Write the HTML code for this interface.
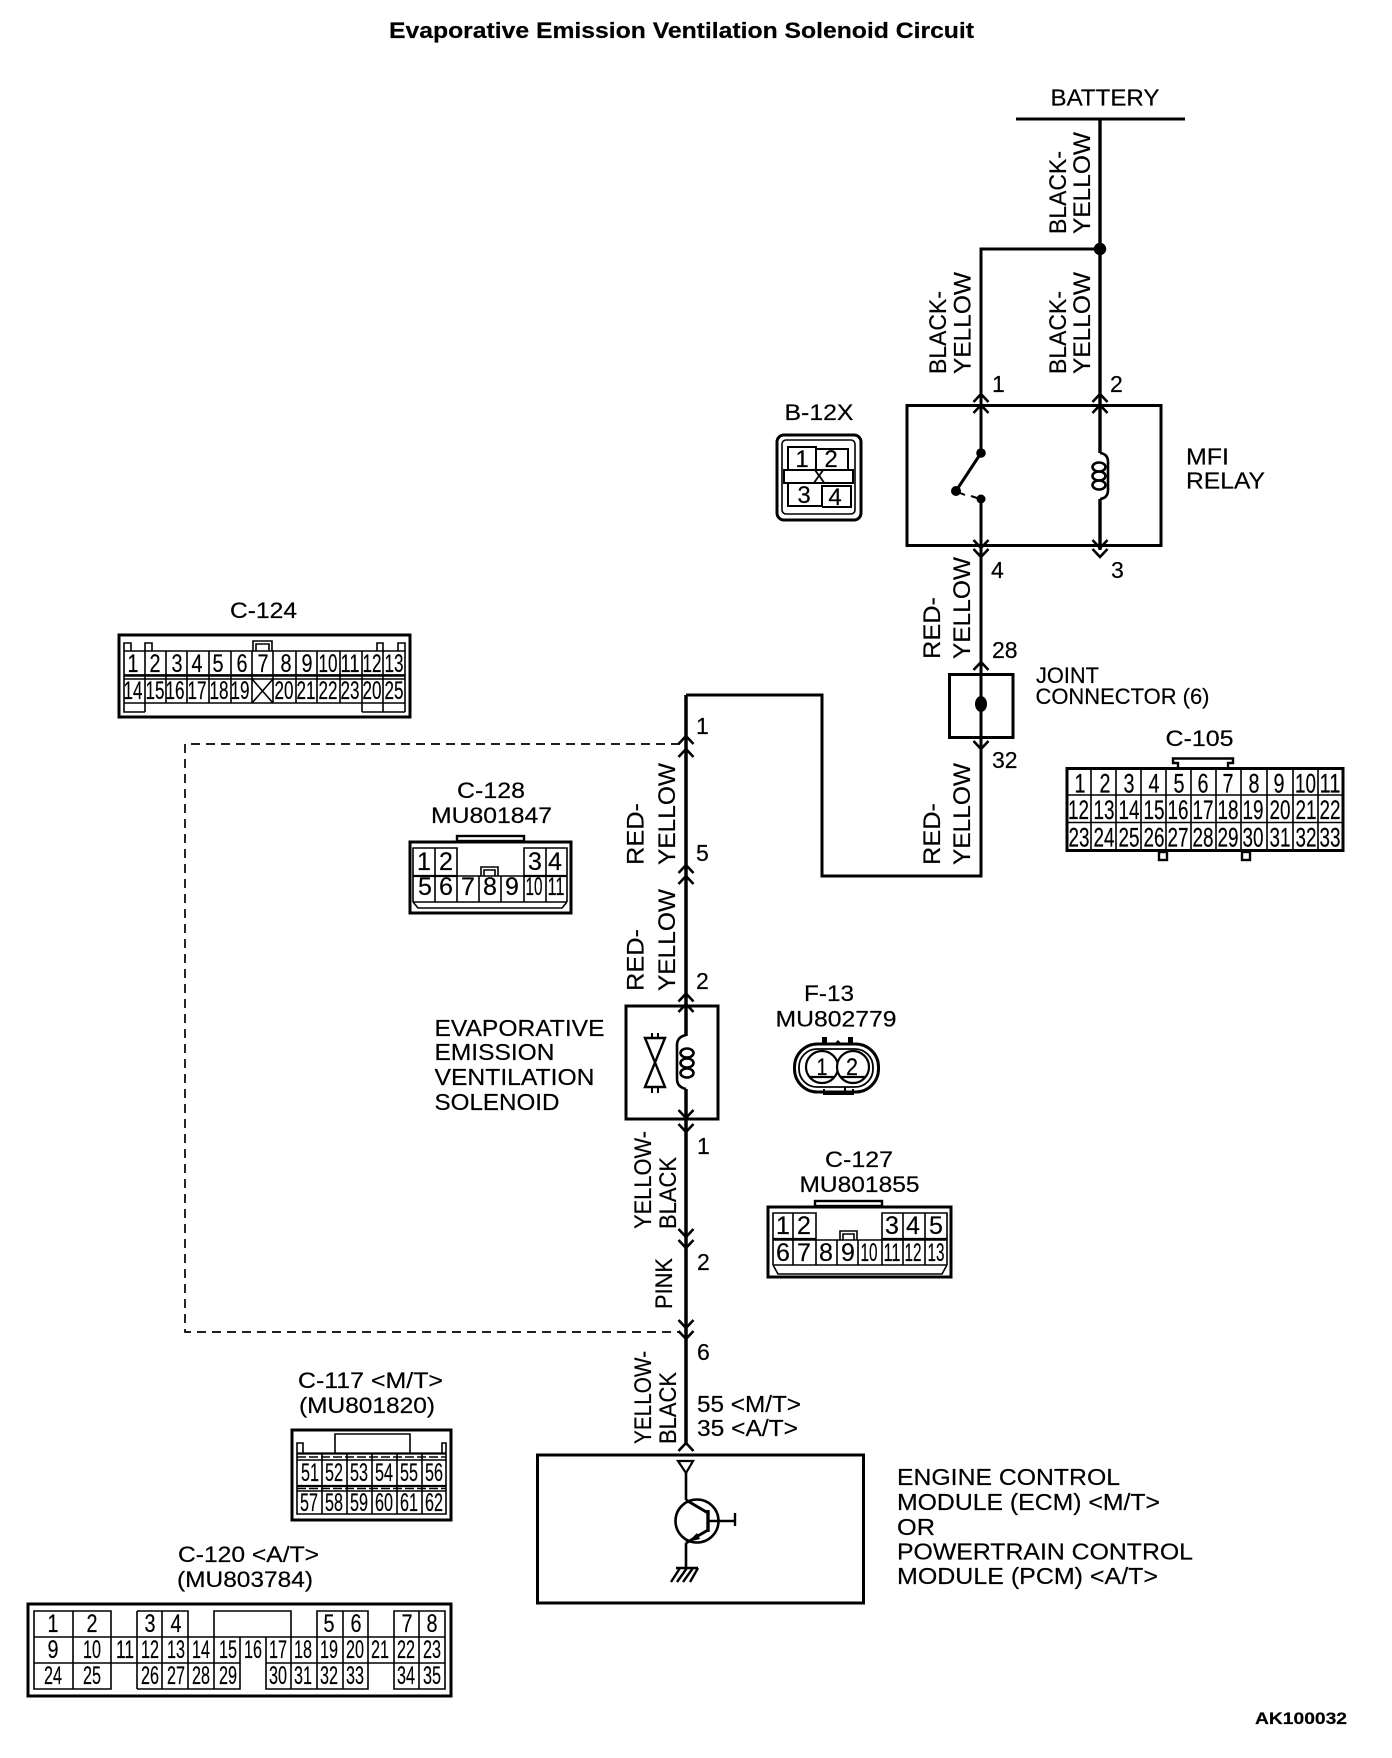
<!DOCTYPE html>
<html><head><meta charset="utf-8"><title>Evaporative Emission Ventilation Solenoid Circuit</title>
<style>
html,body{margin:0;padding:0;background:#fff}
svg{display:block}
text{font-family:"Liberation Sans",Arial,sans-serif;fill:#000;stroke:#000;stroke-width:.2}
.t{font-size:23px}
.l{font-size:22px}
.v{font-size:24.5px}
.p{font-size:25px;text-anchor:middle}
.q{font-size:27px;text-anchor:middle}
.s{font-size:24px;text-anchor:middle}
.b{font-weight:bold}
.w{fill:none;stroke:#000;stroke-width:3}
.n{fill:none;stroke:#000;stroke-width:1.6}
</style></head><body>
<svg xmlns="http://www.w3.org/2000/svg" width="1392" height="1758" viewBox="0 0 1392 1758">
<defs>
<path id="u" d="M-7.5 8L0 0L7.5 8" fill="none" stroke="#000" stroke-width="2.6"/>
<path id="d" d="M-7.5 -8L0 0L7.5 -8" fill="none" stroke="#000" stroke-width="2.6"/>
</defs>
<rect width="1392" height="1758" fill="#fff"/>

<text class="b" x="389" y="38" font-size="22" textLength="585" lengthAdjust="spacingAndGlyphs">Evaporative Emission Ventilation Solenoid Circuit</text>
<text class="b" x="1255" y="1724" font-size="17" textLength="92" lengthAdjust="spacingAndGlyphs">AK100032</text>

<!-- battery and relay -->
<text class="t" x="1050.5" y="105.5" textLength="109" lengthAdjust="spacingAndGlyphs">BATTERY</text>
<path class="w" d="M1016 119H1185"/>
<path d="M1100 119V453M1100 499V550" fill="none" stroke="#000" stroke-width="3.4"/>
<circle cx="1100" cy="249" r="6.2"/>
<path class="w" d="M1100 249H981V453M981 499V660"/>
<rect class="w" x="907" y="405.5" width="254" height="140"/>
<use href="#u" x="981" y="394"/><use href="#u" x="981" y="405"/>
<use href="#u" x="1100" y="394"/><use href="#u" x="1100" y="405"/>
<use href="#d" x="981" y="548"/><use href="#d" x="981" y="557"/>
<use href="#d" x="1100" y="548"/><use href="#d" x="1100" y="557"/>
<circle cx="981" cy="453" r="4.8"/><circle cx="956" cy="491" r="5"/><circle cx="981" cy="499" r="4.5"/>
<path d="M981 453L956 491" stroke="#000" stroke-width="3"/>
<path d="M960 493L965 495M971 496L977 498" stroke="#000" stroke-width="2"/>
<path class="n" style="stroke-width:2.6" d="M1100 453Q1108 454 1108 462V490Q1108 498 1100 499"/>
<ellipse class="n" style="stroke-width:2.6" cx="1099" cy="467" rx="6.5" ry="4.5"/>
<ellipse class="n" style="stroke-width:2.6" cx="1099" cy="476" rx="6.5" ry="4.5"/>
<ellipse class="n" style="stroke-width:2.6" cx="1099" cy="485" rx="6.5" ry="4.5"/>
<text class="t" x="992" y="392">1</text><text class="t" x="1110" y="392">2</text>
<text class="t" x="991" y="578">4</text><text class="t" x="1111" y="578">3</text>
<text class="t" x="1186" y="464.5" textLength="43" lengthAdjust="spacingAndGlyphs">MFI</text>
<text class="t" x="1186" y="488.5" textLength="79" lengthAdjust="spacingAndGlyphs">RELAY</text>

<text class="v" transform="translate(1066,234) rotate(-90)" textLength="83" lengthAdjust="spacingAndGlyphs">BLACK-</text>
<text class="v" transform="translate(1090,234) rotate(-90)" textLength="102" lengthAdjust="spacingAndGlyphs">YELLOW</text>
<text class="v" transform="translate(946,374) rotate(-90)" textLength="83" lengthAdjust="spacingAndGlyphs">BLACK-</text>
<text class="v" transform="translate(970.5,374) rotate(-90)" textLength="102" lengthAdjust="spacingAndGlyphs">YELLOW</text>
<text class="v" transform="translate(1066,374) rotate(-90)" textLength="83" lengthAdjust="spacingAndGlyphs">BLACK-</text>
<text class="v" transform="translate(1090,374) rotate(-90)" textLength="102" lengthAdjust="spacingAndGlyphs">YELLOW</text>
<text class="v" transform="translate(940,659) rotate(-90)" textLength="62" lengthAdjust="spacingAndGlyphs">RED-</text>
<text class="v" transform="translate(970,659) rotate(-90)" textLength="102" lengthAdjust="spacingAndGlyphs">YELLOW</text>
<text class="v" transform="translate(940,865) rotate(-90)" textLength="62" lengthAdjust="spacingAndGlyphs">RED-</text>
<text class="v" transform="translate(970,865) rotate(-90)" textLength="102" lengthAdjust="spacingAndGlyphs">YELLOW</text>
<text class="v" transform="translate(643.5,865) rotate(-90)" textLength="62" lengthAdjust="spacingAndGlyphs">RED-</text>
<text class="v" transform="translate(675,865) rotate(-90)" textLength="102" lengthAdjust="spacingAndGlyphs">YELLOW</text>
<text class="v" transform="translate(643.5,991) rotate(-90)" textLength="62" lengthAdjust="spacingAndGlyphs">RED-</text>
<text class="v" transform="translate(675,991) rotate(-90)" textLength="102" lengthAdjust="spacingAndGlyphs">YELLOW</text>
<text class="v" transform="translate(651,1229) rotate(-90)" textLength="98" lengthAdjust="spacingAndGlyphs">YELLOW-</text>
<text class="v" transform="translate(676,1229) rotate(-90)" textLength="72" lengthAdjust="spacingAndGlyphs">BLACK</text>
<text class="v" transform="translate(672,1309) rotate(-90)" textLength="51" lengthAdjust="spacingAndGlyphs">PINK</text>
<text class="v" transform="translate(651,1444) rotate(-90)" textLength="93" lengthAdjust="spacingAndGlyphs">YELLOW-</text>
<text class="v" transform="translate(676,1444) rotate(-90)" textLength="72" lengthAdjust="spacingAndGlyphs">BLACK</text>

<!-- joint connector -->
<rect class="w" x="949.5" y="674.5" width="63.5" height="63"/>
<ellipse cx="981" cy="704" rx="6" ry="8"/>
<path class="w" d="M981 660V876H822V695H686"/>
<use href="#u" x="981" y="662"/><use href="#d" x="981" y="749"/>
<text class="t" x="992" y="658">28</text><text class="t" x="992" y="768">32</text>
<text class="l" x="1036" y="683" textLength="63" lengthAdjust="spacingAndGlyphs">JOINT</text>
<text class="l" x="1035.5" y="704" textLength="174" lengthAdjust="spacingAndGlyphs">CONNECTOR (6)</text>

<!-- main wire -->
<path d="M686 695V1036M686 1089V1444" fill="none" stroke="#000" stroke-width="3.5"/>
<path d="M686 1006V1036" stroke="#000" stroke-width="3"/>
<use href="#u" x="686" y="736"/><use href="#u" x="686" y="749"/>
<use href="#u" x="686" y="865"/><use href="#u" x="686" y="876"/>
<use href="#u" x="686" y="993.5"/><use href="#u" x="686" y="1004"/>
<use href="#d" x="686" y="1118"/><use href="#d" x="686" y="1132"/>
<use href="#d" x="686" y="1237"/><use href="#d" x="686" y="1248"/>
<use href="#d" x="686" y="1328"/><use href="#d" x="686" y="1339"/>
<use href="#u" x="686" y="1443"/>
<path d="M680 744H185V1332H680" fill="none" stroke="#000" stroke-width="1.7" stroke-dasharray="9 6"/>
<text class="t" x="696" y="734">1</text><text class="t" x="696" y="861">5</text><text class="t" x="696" y="989">2</text>
<text class="t" x="697" y="1154">1</text><text class="t" x="697" y="1270">2</text><text class="t" x="697" y="1360">6</text>
<text class="t" x="697" y="1412" textLength="104" lengthAdjust="spacingAndGlyphs">55 &lt;M/T&gt;</text>
<text class="t" x="697" y="1436" textLength="101" lengthAdjust="spacingAndGlyphs">35 &lt;A/T&gt;</text>

<!-- solenoid -->
<rect class="w" x="626" y="1006" width="92" height="113"/>
<path class="w" style="stroke-width:2.4" d="M645 1038H665L645 1087H665Z"/>
<path d="M652 1033V1038M658 1033V1038M652 1087V1093M658 1087V1093" stroke="#000" stroke-width="2"/>
<path class="n" style="stroke-width:2.6" d="M686 1035Q677 1037 677 1045V1079Q677 1087 686 1089"/>
<ellipse class="n" style="stroke-width:2.6" cx="687" cy="1053" rx="6.5" ry="4.5"/>
<ellipse class="n" style="stroke-width:2.6" cx="687" cy="1063" rx="6.5" ry="4.5"/>
<ellipse class="n" style="stroke-width:2.6" cx="687" cy="1073" rx="6.5" ry="4.5"/>
<text class="t" x="434.5" y="1036" textLength="170" lengthAdjust="spacingAndGlyphs">EVAPORATIVE</text>
<text class="t" x="434.5" y="1060" textLength="120" lengthAdjust="spacingAndGlyphs">EMISSION</text>
<text class="t" x="434.5" y="1085" textLength="160" lengthAdjust="spacingAndGlyphs">VENTILATION</text>
<text class="t" x="434.5" y="1110" textLength="125" lengthAdjust="spacingAndGlyphs">SOLENOID</text>

<!-- ECM -->
<rect class="w" x="537.5" y="1455" width="326" height="148"/>
<path d="M678 1461H693L686 1473Z" fill="none" stroke="#000" stroke-width="2.2"/>
<path d="M686 1473V1500M686 1543V1568" stroke="#000" stroke-width="2.6"/>
<circle cx="697" cy="1521" r="21.5" fill="none" stroke="#000" stroke-width="2.6"/>
<path d="M708 1510V1532" stroke="#000" stroke-width="3.4"/>
<path d="M708 1521H735M735 1513V1526" stroke="#000" stroke-width="2.4"/>
<path d="M686 1500L708 1513" stroke="#000" stroke-width="3"/>
<path d="M708 1530L686 1543" stroke="#000" stroke-width="3"/>
<path d="M688 1542L697 1533L700 1539Z"/>
<path d="M676 1568H698M680 1568L671 1582M687 1568L677 1582M693 1568L683 1582M698 1568L690 1582" stroke="#000" stroke-width="2.4"/>
<text class="t" x="897" y="1485" textLength="223" lengthAdjust="spacingAndGlyphs">ENGINE CONTROL</text>
<text class="t" x="897" y="1510" textLength="263" lengthAdjust="spacingAndGlyphs">MODULE (ECM) &lt;M/T&gt;</text>
<text class="t" x="897" y="1535" textLength="38" lengthAdjust="spacingAndGlyphs">OR</text>
<text class="t" x="897" y="1559.5" textLength="296" lengthAdjust="spacingAndGlyphs">POWERTRAIN CONTROL</text>
<text class="t" x="897" y="1584" textLength="261" lengthAdjust="spacingAndGlyphs">MODULE (PCM) &lt;A/T&gt;</text>

<!-- B-12X -->
<text class="l" x="784.5" y="420" textLength="69" lengthAdjust="spacingAndGlyphs">B-12X</text>
<rect class="w" x="777" y="435" width="84" height="85" rx="7"/>
<rect class="n" x="782" y="440" width="73" height="74" rx="4"/>
<path class="n" style="stroke-width:2" d="M788 470V447H816V470M816 449H848V470M784 470H853V483H784ZM788 484V506H822V486H851V507H822"/>
<text class="s" x="802" y="467">1</text><text class="s" x="831" y="467">2</text>
<text class="s" x="804" y="503">3</text><text class="s" x="835" y="505">4</text>
<text x="819" y="483" font-size="20" text-anchor="middle">X</text>

<!-- C-124 -->
<text class="l" x="230" y="618" textLength="67" lengthAdjust="spacingAndGlyphs">C-124</text>
<rect class="w" x="119" y="635" width="291" height="82"/>
<path class="n" d="M124 651H405M124 675H405M124 679H405M124 703H405M124 651V703M145 651V712M166 651V703M187 651V703M209 651V703M231 651V703M252 651V703M273 651V703M296 651V703M317 651V703M340 651V703M362 651V712M383 651V712M405 651V712M124 703V712H145M362 712H405M124 651V643H131V651M145 651V643H152V651M377 651V643H383V651M398 651V643H405V651M253 651V641H272V651M256 651V644H269V651"/>
<path d="M124 675.5H405" stroke="#000" stroke-width="2.4"/>
<path class="n" d="M252 679L273 703M273 679L252 703"/>
<g>
<text class="p" x="133" y="672" textLength="11" lengthAdjust="spacingAndGlyphs">1</text>
<text class="p" x="155" y="672" textLength="11" lengthAdjust="spacingAndGlyphs">2</text>
<text class="p" x="177" y="672" textLength="11" lengthAdjust="spacingAndGlyphs">3</text>
<text class="p" x="197" y="672" textLength="11" lengthAdjust="spacingAndGlyphs">4</text>
<text class="p" x="218" y="672" textLength="11" lengthAdjust="spacingAndGlyphs">5</text>
<text class="p" x="242" y="672" textLength="11" lengthAdjust="spacingAndGlyphs">6</text>
<text class="p" x="263" y="672" textLength="11" lengthAdjust="spacingAndGlyphs">7</text>
<text class="p" x="286" y="672" textLength="11" lengthAdjust="spacingAndGlyphs">8</text>
<text class="p" x="307" y="672" textLength="11" lengthAdjust="spacingAndGlyphs">9</text>
<text class="p" x="328" y="672" textLength="19" lengthAdjust="spacingAndGlyphs">10</text>
<text class="p" x="350" y="672" textLength="19" lengthAdjust="spacingAndGlyphs">11</text>
<text class="p" x="372" y="672" textLength="19" lengthAdjust="spacingAndGlyphs">12</text>
<text class="p" x="394" y="672" textLength="19" lengthAdjust="spacingAndGlyphs">13</text>
<text class="p" x="133" y="699" textLength="19" lengthAdjust="spacingAndGlyphs">14</text>
<text class="p" x="155" y="699" textLength="19" lengthAdjust="spacingAndGlyphs">15</text>
<text class="p" x="175" y="699" textLength="19" lengthAdjust="spacingAndGlyphs">16</text>
<text class="p" x="197" y="699" textLength="19" lengthAdjust="spacingAndGlyphs">17</text>
<text class="p" x="219" y="699" textLength="19" lengthAdjust="spacingAndGlyphs">18</text>
<text class="p" x="240" y="699" textLength="19" lengthAdjust="spacingAndGlyphs">19</text>
<text class="p" x="284" y="699" textLength="19" lengthAdjust="spacingAndGlyphs">20</text>
<text class="p" x="306" y="699" textLength="19" lengthAdjust="spacingAndGlyphs">21</text>
<text class="p" x="328" y="699" textLength="19" lengthAdjust="spacingAndGlyphs">22</text>
<text class="p" x="350" y="699" textLength="19" lengthAdjust="spacingAndGlyphs">23</text>
<text class="p" x="372" y="699" textLength="19" lengthAdjust="spacingAndGlyphs">20</text>
<text class="p" x="394" y="699" textLength="19" lengthAdjust="spacingAndGlyphs">25</text>
</g>

<!-- C-128 -->
<text class="l" x="457" y="798" textLength="68" lengthAdjust="spacingAndGlyphs">C-128</text>
<text class="l" x="431" y="823" textLength="121" lengthAdjust="spacingAndGlyphs">MU801847</text>
<rect class="w" x="410" y="842" width="161" height="71"/>
<rect x="457" y="836" width="67" height="5" fill="none" stroke="#000" stroke-width="2.4"/>
<path class="n" d="M413 876V848H457V876M435 848V902M524 876V848H567V876M546 848V902M413 876H567M413 902H567M413 876V902M567 876V902M457 876V902M479 876V902M501 876V902M524 876V902M413 902L418 908H562L567 902M481 876V867H498V876M484 876V870H495V876"/>
<path d="M413 876H457M524 876H567" stroke="#000" stroke-width="2.2"/>
<text class="p" x="424" y="870">1</text><text class="p" x="446" y="870">2</text><text class="p" x="535" y="870">3</text><text class="p" x="555" y="870">4</text>
<text class="p" x="425" y="895">5</text><text class="p" x="446" y="895">6</text><text class="p" x="468" y="895">7</text><text class="p" x="490" y="895">8</text><text class="p" x="512" y="895">9</text>
<text class="p" x="534" y="895" textLength="17" lengthAdjust="spacingAndGlyphs">10</text>
<text class="p" x="556" y="895" textLength="17" lengthAdjust="spacingAndGlyphs">11</text>

<!-- C-105 -->
<text class="l" x="1165.5" y="746" textLength="68" lengthAdjust="spacingAndGlyphs">C-105</text>
<rect class="w" x="1067" y="768.5" width="276" height="82"/>
<path class="n" d="M1067 795H1343M1067 822.5H1343M1091 769V851M1116 769V851M1141 769V851M1166 769V851M1191 769V851M1216 769V851M1241 769V851M1267 769V851M1293 769V851M1318 769V851"/>
<path d="M1178 768V763H1173V758.5H1233V763H1228V768" fill="none" stroke="#000" stroke-width="2.4"/>
<rect x="1159" y="852" width="8" height="8" fill="none" stroke="#000" stroke-width="2.4"/>
<rect x="1242" y="852" width="8" height="8" fill="none" stroke="#000" stroke-width="2.4"/>
<g>
<text class="q" x="1080" y="792.5" textLength="11" lengthAdjust="spacingAndGlyphs">1</text>
<text class="q" x="1105" y="792.5" textLength="11" lengthAdjust="spacingAndGlyphs">2</text>
<text class="q" x="1129" y="792.5" textLength="11" lengthAdjust="spacingAndGlyphs">3</text>
<text class="q" x="1154" y="792.5" textLength="11" lengthAdjust="spacingAndGlyphs">4</text>
<text class="q" x="1179" y="792.5" textLength="11" lengthAdjust="spacingAndGlyphs">5</text>
<text class="q" x="1203" y="792.5" textLength="11" lengthAdjust="spacingAndGlyphs">6</text>
<text class="q" x="1228" y="792.5" textLength="11" lengthAdjust="spacingAndGlyphs">7</text>
<text class="q" x="1254" y="792.5" textLength="11" lengthAdjust="spacingAndGlyphs">8</text>
<text class="q" x="1279" y="792.5" textLength="11" lengthAdjust="spacingAndGlyphs">9</text>
<text class="q" x="1305.5" y="792.5" textLength="21" lengthAdjust="spacingAndGlyphs">10</text>
<text class="q" x="1330" y="792.5" textLength="21" lengthAdjust="spacingAndGlyphs">11</text>
<text class="q" x="1078.5" y="819" textLength="21" lengthAdjust="spacingAndGlyphs">12</text>
<text class="q" x="1104" y="819" textLength="21" lengthAdjust="spacingAndGlyphs">13</text>
<text class="q" x="1129" y="819" textLength="21" lengthAdjust="spacingAndGlyphs">14</text>
<text class="q" x="1154" y="819" textLength="21" lengthAdjust="spacingAndGlyphs">15</text>
<text class="q" x="1178" y="819" textLength="21" lengthAdjust="spacingAndGlyphs">16</text>
<text class="q" x="1203" y="819" textLength="21" lengthAdjust="spacingAndGlyphs">17</text>
<text class="q" x="1228" y="819" textLength="21" lengthAdjust="spacingAndGlyphs">18</text>
<text class="q" x="1253" y="819" textLength="21" lengthAdjust="spacingAndGlyphs">19</text>
<text class="q" x="1280" y="819" textLength="21" lengthAdjust="spacingAndGlyphs">20</text>
<text class="q" x="1306" y="819" textLength="21" lengthAdjust="spacingAndGlyphs">21</text>
<text class="q" x="1330" y="819" textLength="21" lengthAdjust="spacingAndGlyphs">22</text>
<text class="q" x="1079" y="846.5" textLength="21" lengthAdjust="spacingAndGlyphs">23</text>
<text class="q" x="1104" y="846.5" textLength="21" lengthAdjust="spacingAndGlyphs">24</text>
<text class="q" x="1129" y="846.5" textLength="21" lengthAdjust="spacingAndGlyphs">25</text>
<text class="q" x="1154" y="846.5" textLength="21" lengthAdjust="spacingAndGlyphs">26</text>
<text class="q" x="1178" y="846.5" textLength="21" lengthAdjust="spacingAndGlyphs">27</text>
<text class="q" x="1203" y="846.5" textLength="21" lengthAdjust="spacingAndGlyphs">28</text>
<text class="q" x="1228" y="846.5" textLength="21" lengthAdjust="spacingAndGlyphs">29</text>
<text class="q" x="1253" y="846.5" textLength="21" lengthAdjust="spacingAndGlyphs">30</text>
<text class="q" x="1280" y="846.5" textLength="21" lengthAdjust="spacingAndGlyphs">31</text>
<text class="q" x="1306" y="846.5" textLength="21" lengthAdjust="spacingAndGlyphs">32</text>
<text class="q" x="1330" y="846.5" textLength="21" lengthAdjust="spacingAndGlyphs">33</text>
</g>

<!-- F-13 -->
<text class="l" x="804" y="1001" textLength="50" lengthAdjust="spacingAndGlyphs">F-13</text>
<text class="l" x="775.5" y="1026.5" textLength="121" lengthAdjust="spacingAndGlyphs">MU802779</text>
<rect x="794.5" y="1044" width="84" height="48" rx="23" fill="none" stroke="#000" stroke-width="3"/>
<rect x="799" y="1049" width="74" height="38" rx="18" fill="none" stroke="#000" stroke-width="1.8"/>
<circle cx="822" cy="1067" r="16" fill="#fff" stroke="#000" stroke-width="2.2"/>
<circle cx="853" cy="1067" r="16" fill="#fff" stroke="#000" stroke-width="2.2"/>
<path d="M810 1077H834M841 1077H865" stroke="#000" stroke-width="2.2"/>
<path d="M822 1044V1037H827V1044ZM848 1044V1037H853V1044ZM834 1044L838 1040L842 1044Z"/>
<path d="M824 1089V1094H853V1089M845 1087V1094" fill="none" stroke="#000" stroke-width="2"/>
<text class="s" x="822" y="1075" textLength="11" lengthAdjust="spacingAndGlyphs">1</text>
<text class="s" x="852" y="1075" textLength="12" lengthAdjust="spacingAndGlyphs">2</text>

<!-- C-127 -->
<text class="l" x="825" y="1167" textLength="68" lengthAdjust="spacingAndGlyphs">C-127</text>
<text class="l" x="799.5" y="1192" textLength="120" lengthAdjust="spacingAndGlyphs">MU801855</text>
<rect class="w" x="768" y="1207" width="183" height="70"/>
<rect x="815" y="1201" width="67" height="5" fill="none" stroke="#000" stroke-width="2.4"/>
<path class="n" d="M773 1240V1213H816V1240M793 1213V1265M882 1240V1213H947V1240M903 1213V1265M925 1213V1265M773 1240H947M773 1265H947M773 1240V1265M947 1240V1265M816 1240V1265M837 1240V1265M858 1240V1265M882 1240V1265M773 1265L778 1274H942L947 1265M840 1240V1231H857V1240M843 1240V1234H854V1240"/>
<path d="M773 1239H816M882 1239H947" stroke="#000" stroke-width="2.2"/>
<text class="p" x="783" y="1234">1</text><text class="p" x="804" y="1234">2</text><text class="p" x="892" y="1234">3</text><text class="p" x="913" y="1234">4</text><text class="p" x="936" y="1234">5</text>
<text class="p" x="783" y="1261">6</text><text class="p" x="804" y="1261">7</text><text class="p" x="826" y="1261">8</text><text class="p" x="848" y="1261">9</text>
<text class="p" x="869" y="1261" textLength="17" lengthAdjust="spacingAndGlyphs">10</text>
<text class="p" x="892" y="1261" textLength="17" lengthAdjust="spacingAndGlyphs">11</text>
<text class="p" x="913" y="1261" textLength="17" lengthAdjust="spacingAndGlyphs">12</text>
<text class="p" x="936" y="1261" textLength="17" lengthAdjust="spacingAndGlyphs">13</text>

<!-- C-117 -->
<text class="l" x="298" y="1388" textLength="145" lengthAdjust="spacingAndGlyphs">C-117 &lt;M/T&gt;</text>
<text class="l" x="299" y="1413" textLength="136" lengthAdjust="spacingAndGlyphs">(MU801820)</text>
<rect class="w" x="292" y="1430" width="159" height="90"/>
<path class="n" d="M335 1453V1434H410V1453M297 1453V1443H303V1453M442 1453V1443H446V1453M297 1453V1514H446V1453M322 1453V1514M347 1453V1514M372 1453V1514M397 1453V1514M422 1453V1514M297 1460H446M297 1491H446"/>
<path d="M297 1453.5H446M297 1486H446" stroke="#000" stroke-width="2.2"/>
<path d="M297 1457H446M297 1488.5H446" stroke="#000" stroke-width="1.4" stroke-dasharray="9 3"/>
<text class="p" x="310" y="1481" textLength="18" lengthAdjust="spacingAndGlyphs">51</text>
<text class="p" x="334" y="1481" textLength="18" lengthAdjust="spacingAndGlyphs">52</text>
<text class="p" x="359" y="1481" textLength="18" lengthAdjust="spacingAndGlyphs">53</text>
<text class="p" x="384" y="1481" textLength="18" lengthAdjust="spacingAndGlyphs">54</text>
<text class="p" x="409" y="1481" textLength="18" lengthAdjust="spacingAndGlyphs">55</text>
<text class="p" x="434" y="1481" textLength="18" lengthAdjust="spacingAndGlyphs">56</text>
<text class="p" x="309" y="1511" textLength="18" lengthAdjust="spacingAndGlyphs">57</text>
<text class="p" x="334" y="1511" textLength="18" lengthAdjust="spacingAndGlyphs">58</text>
<text class="p" x="359" y="1511" textLength="18" lengthAdjust="spacingAndGlyphs">59</text>
<text class="p" x="384" y="1511" textLength="18" lengthAdjust="spacingAndGlyphs">60</text>
<text class="p" x="409" y="1511" textLength="18" lengthAdjust="spacingAndGlyphs">61</text>
<text class="p" x="434" y="1511" textLength="18" lengthAdjust="spacingAndGlyphs">62</text>

<!-- C-120 -->
<text class="l" x="178" y="1562" textLength="141" lengthAdjust="spacingAndGlyphs">C-120 &lt;A/T&gt;</text>
<text class="l" x="177" y="1587" textLength="136" lengthAdjust="spacingAndGlyphs">(MU803784)</text>
<rect class="w" x="28" y="1604" width="423" height="92"/>
<path class="n" d="M34 1611H111V1689H34ZM73 1611V1689M137 1611H188V1637M137 1611V1689M162 1611V1637M214 1637V1611H291V1637M317 1637V1611H368V1637M343 1611V1637M394 1637V1611H445V1689H394V1637M419 1611V1689M34 1637H445M34 1663H240V1689H137M266 1663H445M266 1663V1689H368V1663M162 1663V1689M188 1663V1689M214 1663V1689M291 1663V1689M317 1663V1689M343 1663V1689M137 1637V1663M162 1637V1663M188 1637V1663M214 1637V1663M240 1637V1663M266 1637V1663M291 1637V1663M317 1637V1663M343 1637V1663M368 1637V1663M394 1637V1663"/>
<text class="p" x="53" y="1632" textLength="11" lengthAdjust="spacingAndGlyphs">1</text>
<text class="p" x="92" y="1632" textLength="11" lengthAdjust="spacingAndGlyphs">2</text>
<text class="p" x="150" y="1632" textLength="11" lengthAdjust="spacingAndGlyphs">3</text>
<text class="p" x="176" y="1632" textLength="11" lengthAdjust="spacingAndGlyphs">4</text>
<text class="p" x="329" y="1632" textLength="11" lengthAdjust="spacingAndGlyphs">5</text>
<text class="p" x="356" y="1632" textLength="11" lengthAdjust="spacingAndGlyphs">6</text>
<text class="p" x="407" y="1632" textLength="11" lengthAdjust="spacingAndGlyphs">7</text>
<text class="p" x="432" y="1632" textLength="11" lengthAdjust="spacingAndGlyphs">8</text>
<text class="p" x="53" y="1658" textLength="11" lengthAdjust="spacingAndGlyphs">9</text>
<text class="p" x="92" y="1658" textLength="18" lengthAdjust="spacingAndGlyphs">10</text>
<text class="p" x="125" y="1658" textLength="18" lengthAdjust="spacingAndGlyphs">11</text>
<text class="p" x="150" y="1658" textLength="18" lengthAdjust="spacingAndGlyphs">12</text>
<text class="p" x="176" y="1658" textLength="18" lengthAdjust="spacingAndGlyphs">13</text>
<text class="p" x="201" y="1658" textLength="18" lengthAdjust="spacingAndGlyphs">14</text>
<text class="p" x="228" y="1658" textLength="18" lengthAdjust="spacingAndGlyphs">15</text>
<text class="p" x="253" y="1658" textLength="18" lengthAdjust="spacingAndGlyphs">16</text>
<text class="p" x="278" y="1658" textLength="18" lengthAdjust="spacingAndGlyphs">17</text>
<text class="p" x="303" y="1658" textLength="18" lengthAdjust="spacingAndGlyphs">18</text>
<text class="p" x="329" y="1658" textLength="18" lengthAdjust="spacingAndGlyphs">19</text>
<text class="p" x="355" y="1658" textLength="18" lengthAdjust="spacingAndGlyphs">20</text>
<text class="p" x="380" y="1658" textLength="18" lengthAdjust="spacingAndGlyphs">21</text>
<text class="p" x="406" y="1658" textLength="18" lengthAdjust="spacingAndGlyphs">22</text>
<text class="p" x="432" y="1658" textLength="18" lengthAdjust="spacingAndGlyphs">23</text>
<text class="p" x="53" y="1684" textLength="18" lengthAdjust="spacingAndGlyphs">24</text>
<text class="p" x="92" y="1684" textLength="18" lengthAdjust="spacingAndGlyphs">25</text>
<text class="p" x="150" y="1684" textLength="18" lengthAdjust="spacingAndGlyphs">26</text>
<text class="p" x="176" y="1684" textLength="18" lengthAdjust="spacingAndGlyphs">27</text>
<text class="p" x="201" y="1684" textLength="18" lengthAdjust="spacingAndGlyphs">28</text>
<text class="p" x="228" y="1684" textLength="18" lengthAdjust="spacingAndGlyphs">29</text>
<text class="p" x="278" y="1684" textLength="18" lengthAdjust="spacingAndGlyphs">30</text>
<text class="p" x="303" y="1684" textLength="18" lengthAdjust="spacingAndGlyphs">31</text>
<text class="p" x="329" y="1684" textLength="18" lengthAdjust="spacingAndGlyphs">32</text>
<text class="p" x="355" y="1684" textLength="18" lengthAdjust="spacingAndGlyphs">33</text>
<text class="p" x="406" y="1684" textLength="18" lengthAdjust="spacingAndGlyphs">34</text>
<text class="p" x="432" y="1684" textLength="18" lengthAdjust="spacingAndGlyphs">35</text>
</svg>
</body></html>
